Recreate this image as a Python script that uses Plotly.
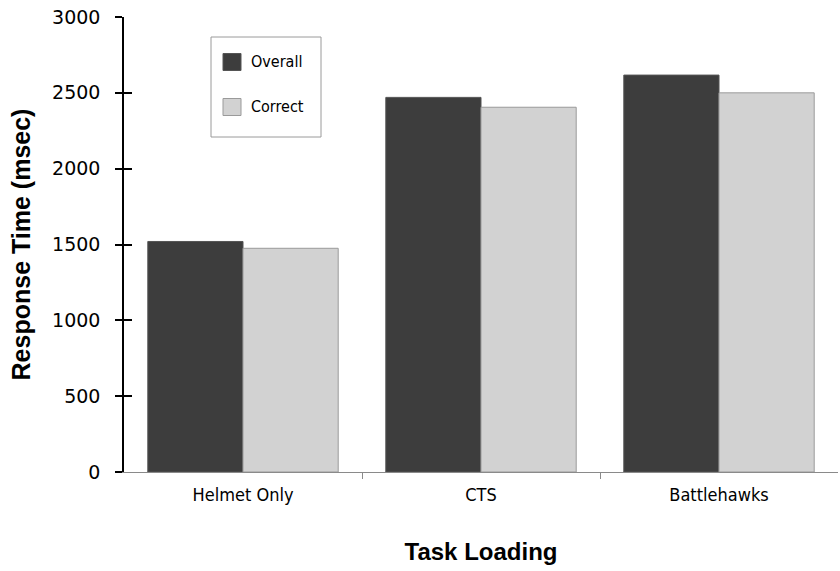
import plotly.graph_objects as go

# Mean response time by task loading condition
categories = ["Helmet Only", "CTS", "Battlehawks"]
overall = [1520, 2470, 2617]
correct = [1475, 2405, 2500]
y_ticks = [0, 500, 1000, 1500, 2000, 2500, 3000]

series_names = ["Overall", "Correct"]
fill_colors = ["#3d3d3d", "#d2d2d2"]
edge_colors = ["#555555", "#9a9a9a"]

LABEL_FONT = "DejaVu Sans Condensed, Liberation Sans Narrow, sans-serif"

fig = go.Figure()
for name, vals, fc, ec in zip(series_names, [overall, correct], fill_colors, edge_colors):
    fig.add_trace(go.Bar(
        x=categories, y=vals, name=name, showlegend=False,
        marker=dict(color=fc, line=dict(color=ec, width=1)),
    ))

# invisible trace so the category label axis is drawn
fig.add_trace(go.Scatter(x=categories, y=[0, 0, 0], xaxis="x2", yaxis="y2",
                         mode="markers", marker=dict(opacity=0), showlegend=False,
                         hoverinfo="skip"))

# plot-area geometry in pixels, used to place the boxed legend
L, R, T, B = 124, 838, 17, 472
W, H = 840, 571


def px(x):
    return (x - L) / (R - L)


def py(y):
    return (B - y) / (B - T)


shapes = [dict(type="rect", xref="paper", yref="paper",
               x0=px(211), x1=px(321), y0=py(137), y1=py(37),
               line=dict(color="#9a9a9a", width=1), fillcolor="white", layer="above")]
annotations = []
for i, (name, fc, ec) in enumerate(zip(series_names, fill_colors, edge_colors)):
    cy = 62 + i * 45
    shapes.append(dict(type="rect", xref="paper", yref="paper",
                       x0=px(223), x1=px(241), y0=py(cy + 8.5), y1=py(cy - 8.5),
                       line=dict(color=ec, width=1), fillcolor=fc, layer="above"))
    annotations.append(dict(text=name, xref="paper", yref="paper",
                            x=px(249), y=py(cy), xanchor="left", yanchor="middle",
                            showarrow=False, font=dict(size=16, family=LABEL_FONT)))

fig.update_layout(
    width=W, height=H,
    margin=dict(l=L, r=W - R, t=T, b=H - B),
    paper_bgcolor="white", plot_bgcolor="white",
    barmode="group", bargap=0.2, bargroupgap=0,
    font=dict(family="Liberation Sans, Arial, sans-serif", color="black"),
    showlegend=False,
    shapes=shapes, annotations=annotations,
    xaxis=dict(
        range=[-0.5, 2.5],
        showline=True, linecolor="#8a8a8a", linewidth=1,
        ticks="outside", ticklen=6, tickcolor="#8a8a8a",
        tickmode="array", tickvals=[0.5, 1.5], ticktext=["", ""],
        showgrid=False, zeroline=False,
        title=dict(text="<b>Task Loading</b>", standoff=62,
                   font=dict(size=24, family="Liberation Sans, Arial, sans-serif")),
    ),
    xaxis2=dict(
        range=[-0.5, 2.5], overlaying="x", side="bottom",
        showline=False, showgrid=False, zeroline=False,
        tickmode="array", tickvals=[0, 1, 2], ticktext=categories,
        ticks="", tickfont=dict(size=18, family=LABEL_FONT),
        ticklabelstandoff=10,
    ),
    yaxis=dict(
        range=[0, 3000],
        showline=True, linecolor="black", linewidth=1.5,
        ticks="outside", ticklen=7, tickcolor="black", tickwidth=1.5,
        tickvals=y_ticks, tickfont=dict(size=19, family="DejaVu Sans, sans-serif"),
        ticklabelstandoff=11,
        showgrid=False, zeroline=False,
        title=dict(text="<b>Response Time (msec)</b>", font=dict(size=25), standoff=14),
    ),
    yaxis2=dict(
        range=[0, 3000], overlaying="y", side="left",
        showline=False, showgrid=False, zeroline=False,
        ticks="inside", ticklen=8, tickcolor="black", tickwidth=1.5,
        tickvals=y_ticks, showticklabels=False,
    ),
)

fig.write_html("out.html")
